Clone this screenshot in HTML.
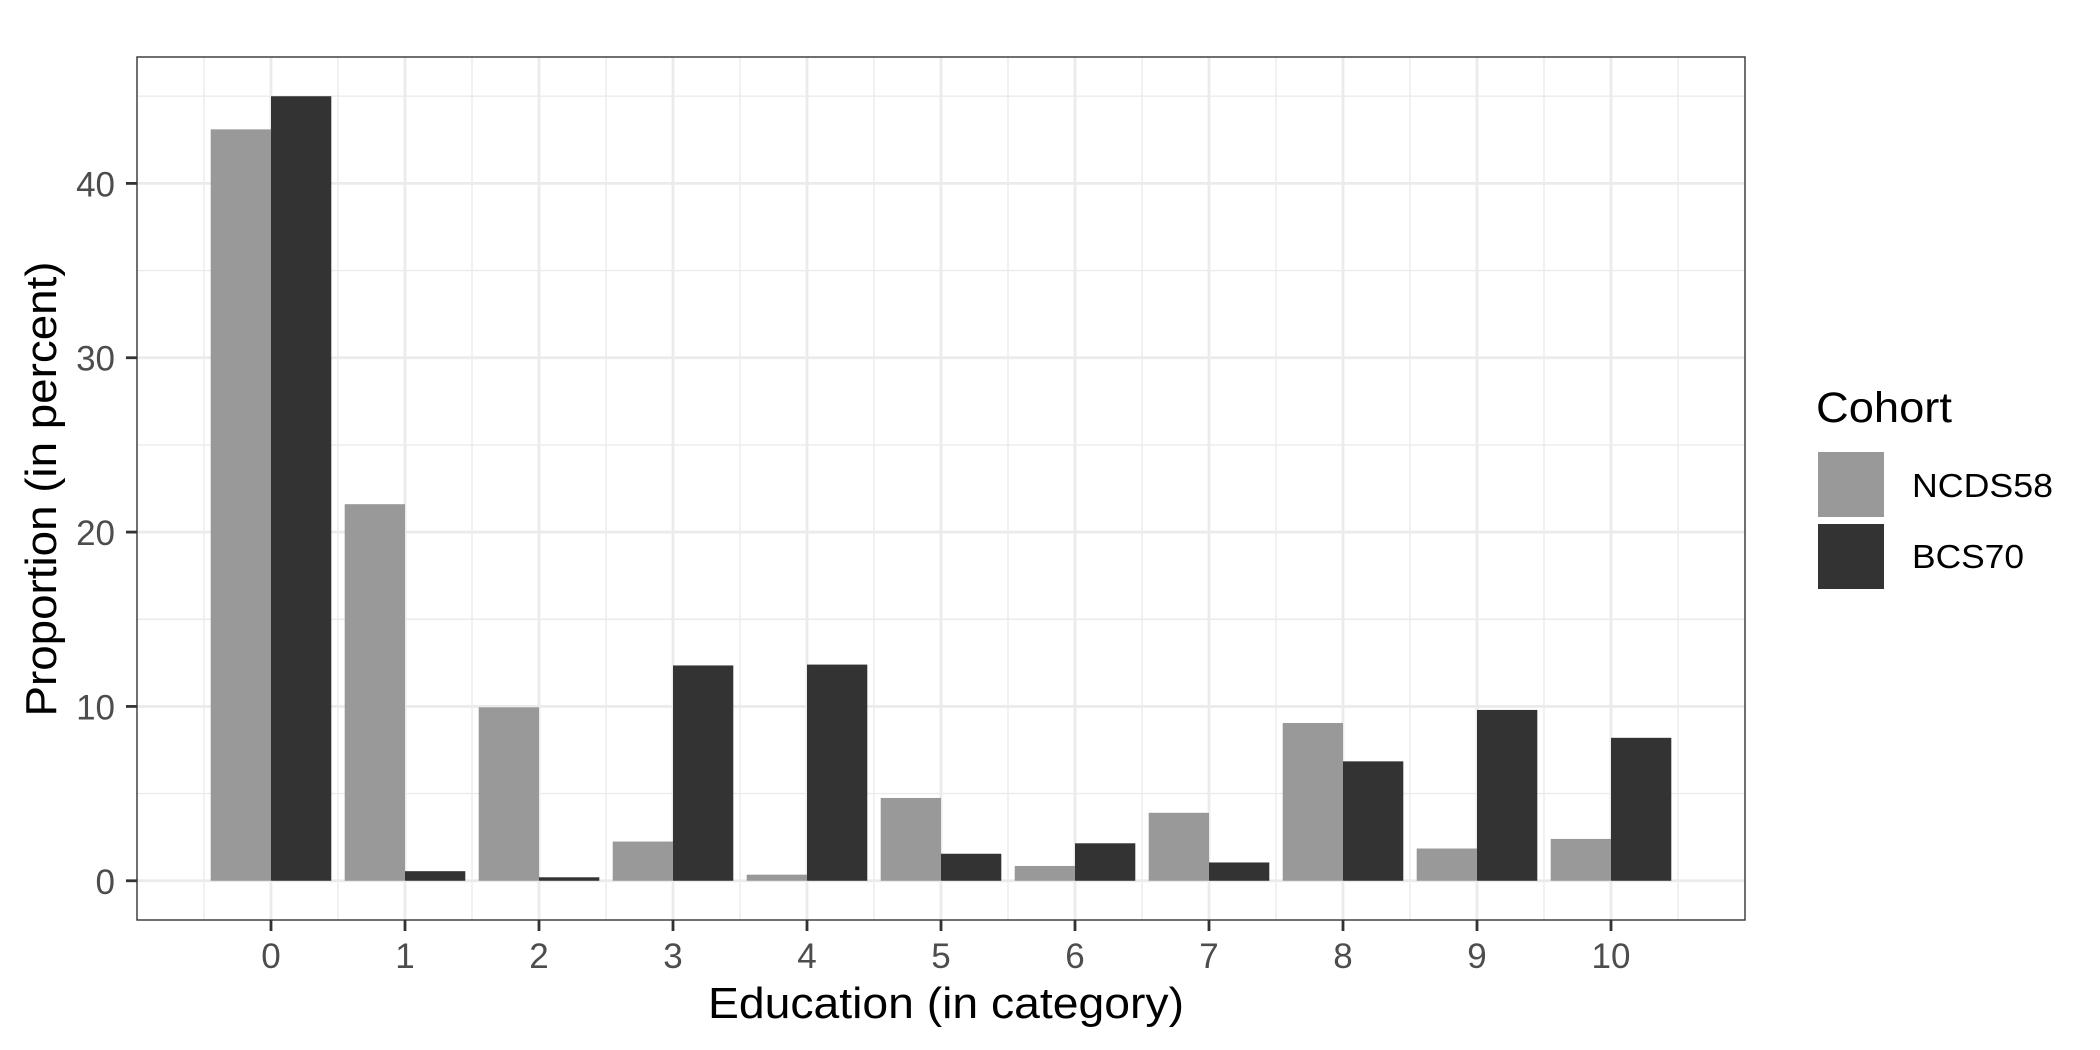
<!DOCTYPE html>
<html><head><meta charset="utf-8"><style>
body{margin:0;background:#fff;}
svg{display:block;font-family:"Liberation Sans",Arial,sans-serif;}
</style></head><body>
<svg id="chart" width="2100" height="1050" viewBox="0 0 2100 1050" xmlns="http://www.w3.org/2000/svg">
<rect width="2100" height="1050" fill="#fff"/>
<g id="grid"></g><g id="bars"></g><g id="axes"></g>
<text x="708" y="1018" font-size="44" textLength="476" lengthAdjust="spacingAndGlyphs" fill="#000">Education (in category)</text>
<text transform="translate(56,489) rotate(-90)" font-size="44" text-anchor="middle" textLength="455" lengthAdjust="spacingAndGlyphs" fill="#000">Proportion (in percent)</text>
<g>
<text x="1816" y="422" font-size="43" textLength="136" lengthAdjust="spacingAndGlyphs" fill="#000">Cohort</text>
<rect x="1818" y="452" width="66" height="65" fill="#999999"/>
<text x="1912" y="497" font-size="33" textLength="141" lengthAdjust="spacingAndGlyphs" fill="#000">NCDS58</text>
<rect x="1818" y="524" width="66" height="65" fill="#333333"/>
<text x="1912" y="568" font-size="33" textLength="112" lengthAdjust="spacingAndGlyphs" fill="#000">BCS70</text>
</g>
</svg>
<script>
const categories=[0,1,2,3,4,5,6,7,8,9,10];
const ncds58=[43.1,21.6,9.95,2.25,0.35,4.75,0.85,3.9,9.05,1.85,2.4];
const bcs70=[45.0,0.55,0.2,12.35,12.4,1.55,2.15,1.05,6.85,9.8,8.2];
const yTicks=[0,10,20,30,40];
const yMinor=[5,15,25,35,45];
const NS="http://www.w3.org/2000/svg";
const L=137,R=1745,T=57,B=920;
const xMin=-1,xMax=11,yMin=-2.25,yMax=47.25;
const sx=v=>L+(v-xMin)/(xMax-xMin)*(R-L);
const sy=v=>B-(v-yMin)/(yMax-yMin)*(B-T);
function mk(tag,attrs,parent){const e=document.createElementNS(NS,tag);for(const k in attrs)e.setAttribute(k,attrs[k]);parent.appendChild(e);return e;}
const grid=document.getElementById('grid'),bars=document.getElementById('bars'),axes=document.getElementById('axes');
yMinor.forEach(v=>{const l=mk('line',{x1:L,x2:R,y1:sy(v),y2:sy(v),stroke:'#ebebeb','stroke-width':1.4},grid);

});
categories.concat([categories.length]).forEach(c=>{const v=c-0.5;const l=mk('line',{x1:sx(v),x2:sx(v),y1:T,y2:B,stroke:'#ebebeb','stroke-width':1.4},grid);

});
yTicks.forEach(v=>{const l=mk('line',{x1:L,x2:R,y1:sy(v),y2:sy(v),stroke:'#ebebeb','stroke-width':2.8},grid);

});
categories.forEach(c=>{const l=mk('line',{x1:sx(c),x2:sx(c),y1:T,y2:B,stroke:'#ebebeb','stroke-width':2.8},grid);

});
categories.forEach((c,i)=>{
 const r1=mk('rect',{x:sx(c-0.45),y:sy(ncds58[i]),width:sx(c)-sx(c-0.45),height:sy(0)-sy(ncds58[i]),fill:'#999999'},bars);
 
 
 const r2=mk('rect',{x:sx(c),y:sy(bcs70[i]),width:sx(c+0.45)-sx(c),height:sy(0)-sy(bcs70[i]),fill:'#333333'},bars);
 
 
});
const border=mk('rect',{x:L,y:T,width:R-L,height:B-T,fill:'none',stroke:'#333','stroke-width':1.4},axes);


yTicks.forEach(v=>{const t=mk('line',{x1:L-11,x2:L,y1:sy(v),y2:sy(v),stroke:'#333','stroke-width':2.8},axes);


const lbl=String(v);
const s=mk('text',{x:L-22,y:sy(v)+13,'font-size':35,'text-anchor':'end',fill:'#4d4d4d'},axes);s.textContent=lbl;

});
categories.forEach(c=>{const t=mk('line',{x1:sx(c),x2:sx(c),y1:B,y2:B+11,stroke:'#333','stroke-width':2.8},axes);


const lbl=String(c);
const s=mk('text',{x:sx(c),y:968,'font-size':35,'text-anchor':'middle',fill:'#4d4d4d'},axes);s.textContent=lbl;

});
</script>
</body></html>
